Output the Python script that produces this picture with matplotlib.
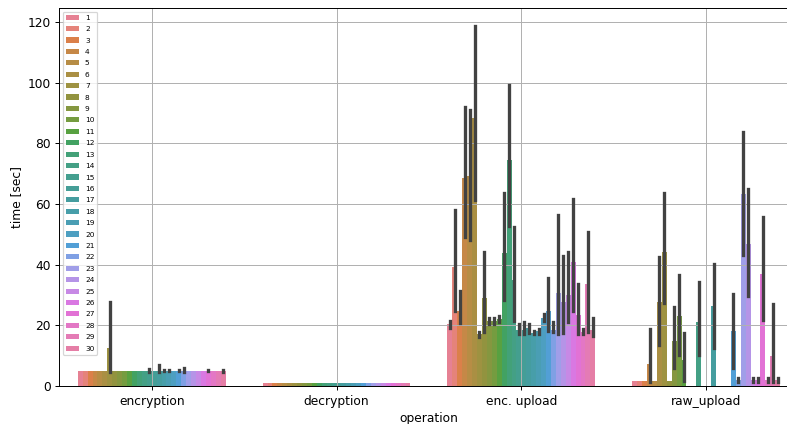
import numpy as np
import matplotlib
matplotlib.use("Agg")
import matplotlib.pyplot as plt
import seaborn as sns

nan = np.nan
operations = ["encryption", "decryption", "enc. upload", "raw_upload"]
hues = [str(i) for i in range(1, 31)]

enc_mean = [4.8, 4.8, 4.8, 4.8, 4.9, 4.9, 12.5, 5.0, 5.0, 5.0, 5.0, 5.0, 5.0, 5.0, 5.0,
            5.0, 5.0, 5.0, 5.0, 5.0, 5.0, 5.0, 5.0, 5.0, 5.0, 5.0, 5.0, 5.0, 5.0, 4.9]
enc_lo = [nan] * 6 + [4.7] + [nan] * 7 + [4.7, nan, 4.7, 4.8, 4.8, nan, 4.8, 4.6,
                                          nan, nan, nan, nan, 4.8, nan, nan, 4.6]
enc_hi = [nan] * 6 + [27.8] + [nan] * 7 + [5.6, nan, 6.9, 5.4, 5.4, nan, 5.4, 5.8,
                                           nan, nan, nan, nan, 5.4, nan, nan, 5.2]

dec_mean = [0.9] * 30
dec_lo = [nan] * 30
dec_hi = [nan] * 30

up_mean = [20.3, 39.4, 24.6, 68.5, 69.3, 88.5, 17.0, 29.0, 21.4, 21.5, 22.0, 44.0, 74.5, 35.0, 18.5,
           18.6, 19.0, 17.5, 18.0, 22.5, 24.6, 18.5, 30.7, 27.6, 30.1, 41.0, 23.5, 17.8, 33.7, 18.6]
up_lo = [19.2, 24.6, 20.8, 49.0, 48.2, 61.3, 16.2, 17.7, 20.3, 20.5, 21.0, 28.5, 52.8, 21.4, 17.3,
         17.3, 17.5, 17.0, 17.3, 21.4, 18.0, 17.7, 17.0, 17.5, 21.0, 24.6, 17.3, 17.0, 17.7, 16.4]
up_hi = [21.4, 58.0, 31.2, 92.2, 91.1, 118.8, 17.7, 44.1, 22.5, 22.5, 23.0, 63.7, 99.3, 52.6, 20.6,
         21.0, 20.5, 18.0, 18.8, 23.9, 35.6, 21.1, 56.4, 43.0, 44.1, 61.7, 33.7, 18.8, 50.7, 22.5]

raw_mean = [1.8, 1.8, 1.8, 7.3, 1.8, 27.8, 44.3, 1.8, 15.0, 23.0, 8.6, 0, 0, 21.2, 0,
            0, 26.4, 0, 0, 0, 18.2, 2.0, 63.5, 47.0, 2.0, 2.0, 37.1, 2.0, 9.9, 2.0]
raw_lo = [nan, nan, nan, 1.4, nan, 13.5, 27.5, nan, 5.8, 10.2, 1.8, nan, nan, 10.2, nan,
          nan, 12.4, nan, nan, nan, 5.8, 1.4, 43.2, 29.7, 1.4, 1.4, 21.8, 1.4, 1.4, 1.4]
raw_hi = [nan, nan, nan, 18.7, nan, 42.6, 63.7, nan, 26.0, 36.5, 17.6, nan, nan, 34.4, nan,
          nan, 40.4, nan, nan, nan, 30.2, 2.7, 83.8, 65.0, 2.7, 2.7, 55.6, 2.7, 26.9, 2.7]

means = np.array([enc_mean, dec_mean, up_mean, raw_mean])
los = np.array([enc_lo, dec_lo, up_lo, raw_lo])
his = np.array([enc_hi, dec_hi, up_hi, raw_hi])

colors = [sns.desaturate(c, 0.75) for c in sns.husl_palette(len(hues))]

DPI = 88
W, H = 787, 424
fig = plt.figure(figsize=(W / DPI, H / DPI), dpi=DPI)
ax = fig.add_axes([59.3 / W, (H - 386) / H, (798.6 - 59.3) / W, (386 - 8) / H])

n = len(hues)
width = 0.8 / n
x = np.arange(len(operations))
for j, h in enumerate(hues):
    xs = x - 0.4 + (j + 0.5) * width
    ax.bar(xs, means[:, j], width=width, color=colors[j], label=h)
    for k in range(len(operations)):
        if not np.isnan(los[k, j]):
            ax.plot([xs[k], xs[k]], [los[k, j], his[k, j]], color=".26", lw=2.7)

ax.set_xlim(-0.5, 3.5)
ax.set_xticks(x)
ax.set_xticklabels(operations)
ax.set_ylim(0, 124.7)
ax.set_yticks([0, 20, 40, 60, 80, 100, 120])
ax.grid(True)
ax.set_xlabel("operation")
ax.set_ylabel("time [sec]")
ax.legend(loc="upper left", fontsize=6, handlelength=1.8, labelspacing=0.72)

fig.savefig("out.png", dpi=DPI)
